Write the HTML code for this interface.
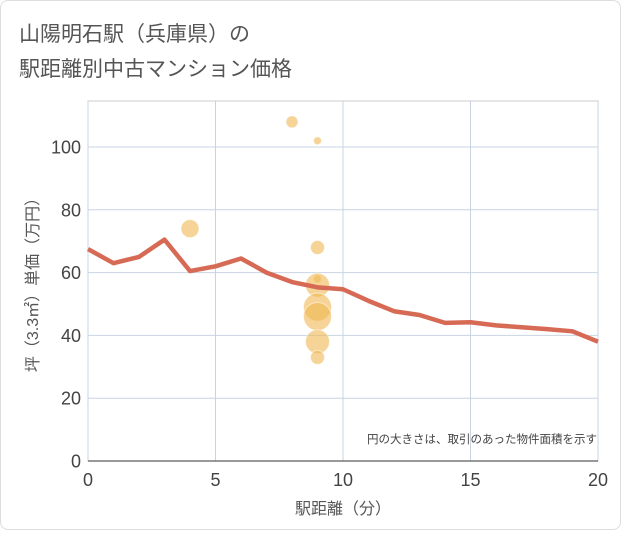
<!DOCTYPE html>
<html><head><meta charset="utf-8"><style>
body{margin:0;background:#fff;font-family:"Liberation Sans","Noto Sans CJK JP",sans-serif;}
#card{position:absolute;left:0;top:0;width:619px;height:528px;border:1px solid #ddd;border-radius:8px;background:#fff;}
</style></head><body>
<div id="card">
<svg width="621" height="530" id="svg">
<text x="18" y="40" font-size="21" fill="#555">山陽明石駅（兵庫県）の</text>
<text x="18" y="75" font-size="21" fill="#555">駅距離別中古マンション価格</text>
<g id="grid"></g><g id="bubbles"></g><g id="line"></g><g id="axes"></g>
<text x="596" y="442" font-size="11.5" fill="#444" text-anchor="end">円の大きさは、取引のあった物件面積を示す</text>
<text x="342" y="513" font-size="16" fill="#555" text-anchor="middle">駅距離（分）</text>
<text transform="translate(37,280) rotate(-90)" font-size="16" fill="#555" text-anchor="middle">坪（3.3㎡）単価（万円）</text>
</svg></div>
<script>
const xTicks=[0,5,10,15,20];
const yTicks=[0,20,40,60,80,100];
const lineX=[0,1,2,3,4,5,6,7,8,9,10,11,12,13,14,15,16,17,18,19,20];
const lineY=[67.5,63,65,70.5,60.5,62,64.5,60,57,55.3,54.7,51,47.7,46.5,44,44.2,43.2,42.6,42,41.3,38];
const bubX=[8,9,4,9,9,9,9,9,9,9];
const bubY=[108,102,74,68,58,56,49,46,38,33];
const bubR=[6,4,9,7,4,12,14,14,12,7];
const X0=87,X1=597,Y0=460,Ytop=100;
const sx=v=>X0+(X1-X0)*v/20, sy=v=>Y0-(Y0-146)*v/100;
const NS='http://www.w3.org/2000/svg';
function mk(p,t,a){const e=document.createElementNS(NS,t);for(const k in a)e.setAttribute(k,a[k]);p.appendChild(e);return e;}
const g=document.getElementById('grid'),ax=document.getElementById('axes');
mk(g,'rect',{x:X0,y:Ytop,width:X1-X0,height:Y0-Ytop,fill:'none',stroke:'#ccc'});
xTicks.forEach(t=>{const l=mk(g,'line',{x1:sx(t),x2:sx(t),y1:Ytop,y2:Y0,stroke:'#c8d4e3'});

const tx=mk(ax,'text',{x:sx(t),y:Y0+25,'font-size':18,fill:'#444','text-anchor':'middle'});tx.textContent=t;
});
yTicks.forEach(t=>{const l=mk(g,'line',{x1:X0,x2:X1,y1:sy(t),y2:sy(t),stroke:'#c8d4e3'});

const tx=mk(ax,'text',{x:X0-7,y:sy(t)+6.5,'font-size':18,fill:'#444','text-anchor':'end'});tx.textContent=t;
});
mk(ax,'line',{x1:X0,x2:X1,y1:Y0,y2:Y0,stroke:'#333'});
const b=document.getElementById('bubbles');
bubX.forEach((v,i)=>{const c=mk(b,'circle',{cx:sx(v),cy:sy(bubY[i]),r:bubR[i],fill:'#f0b752','fill-opacity':0.6,stroke:'#fff','stroke-opacity':0.5});
});
const p=mk(document.getElementById('line'),'polyline',{points:lineX.map((v,i)=>sx(v)+','+sy(lineY[i])).join(' '),fill:'none',stroke:'#d66a55','stroke-width':4.5,'stroke-linejoin':'round'});

</script></body></html>
